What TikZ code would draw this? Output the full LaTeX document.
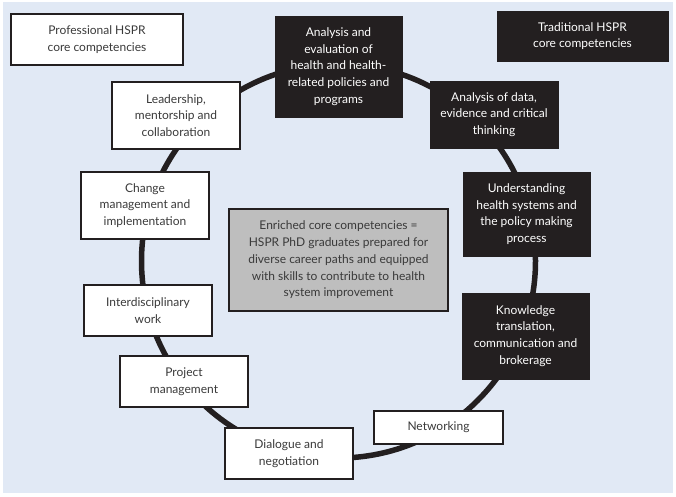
\documentclass[tikz,border=0pt]{standalone}
\usepackage{fontspec}
\setmainfont{Lato}
\definecolor{bgblue}{HTML}{E1E9F5}
\definecolor{boxdark}{HTML}{231F20}
\definecolor{txtgrey}{HTML}{3A3A3A}
\definecolor{fillgrey}{HTML}{BEBEBE}
\begin{document}
\begin{tikzpicture}[x=1pt,y=-1pt,
  every node/.style={font=\fontsize{12}{16.7}\selectfont, align=center, inner sep=0pt},
  wbox/.style={draw=boxdark, line width=1.8pt, fill=white, text=txtgrey},
  dbox/.style={draw=boxdark, line width=1pt, fill=boxdark, text=white},
  gbox/.style={draw=boxdark, line width=1.8pt, fill=fillgrey, text=txtgrey},
  ring/.style={draw=boxdark, line width=5.5pt}]
\useasboundingbox (0,0) rectangle (676,496);
\fill[white] (0,0) rectangle (676,496);
\fill[bgblue] (3,2) rectangle (673,493);
\coordinate (ctr) at (338.5,261);
\draw[ring] (ctr) circle (197);
\node[wbox, minimum width=172, minimum height=51] (prof) at (97,39.5) {Professional HSPR\\core competencies};
\node[dbox, minimum width=171, minimum height=50] (trad) at (582.5,36) {Traditional HSPR\\core competencies};
\node[dbox, minimum width=127, minimum height=101] (aneval) at (338.5,66.5) {Analysis and\\evaluation of\\health and health-\\related policies and\\programs};
\node[wbox, minimum width=128, minimum height=67] (lead) at (176,115.5) {Leadership,\\mentorship and\\collaboration};
\node[dbox, minimum width=128, minimum height=67] (andata) at (494,114.5) {Analysis of data,\\evidence and critical\\thinking};
\node[wbox, minimum width=128, minimum height=67] (change) at (145,205.5) {Change\\management and\\implementation};
\node[dbox, minimum width=127, minimum height=84] (under) at (526.5,214) {Understanding\\health systems and\\the policy making\\process};
\node[gbox, minimum width=219, minimum height=102] (grey) at (338.5,260) {Enriched core competencies =\\HSPR PhD graduates prepared for\\diverse career paths and equipped\\with skills to contribute to health\\system improvement};
\node[wbox, minimum width=128, minimum height=51] (inter) at (148,310.5) {Interdisciplinary\\work};
\node[dbox, minimum width=127, minimum height=86] (know) at (525.5,336) {Knowledge\\translation,\\communication and\\brokerage};
\node[wbox, minimum width=128, minimum height=51] (proj) at (184,381.5) {Project\\management};
\node[wbox, minimum width=129, minimum height=33] (net) at (438.5,427.5) {Networking};
\node[wbox, minimum width=128, minimum height=51] (dial) at (289,453.5) {Dialogue and\\negotiation};
\end{tikzpicture}
\end{document}
